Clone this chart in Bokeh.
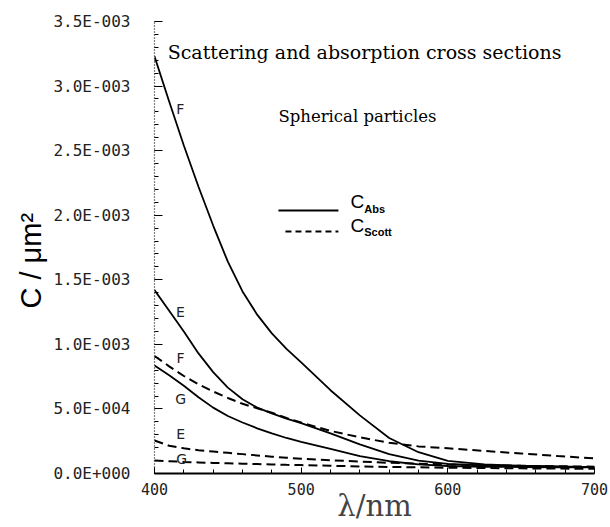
from bokeh.plotting import figure
from bokeh.models import (FixedTicker, CustomJSTickFormatter, Range1d, Label,
                          ColumnDataSource, Title)
from bokeh.embed import file_html
from bokeh.resources import INLINE

# ---------------- data ----------------
wavelength = [400, 410, 420, 430, 440, 450, 460, 470, 480, 490, 500,
              520, 540, 560, 580, 600, 625, 650, 675, 700]

# absorption cross sections (solid), in um^2
abs_F = [3.23e-3, 2.88e-3, 2.54e-3, 2.22e-3, 1.92e-3, 1.64e-3, 1.41e-3, 1.23e-3,
         1.085e-3, 0.965e-3, 0.86e-3, 0.645e-3, 0.45e-3, 0.275e-3, 0.165e-3,
         0.097e-3, 0.07e-3, 0.06e-3, 0.055e-3, 0.05e-3]
abs_E = [1.42e-3, 1.26e-3, 1.10e-3, 0.93e-3, 0.785e-3, 0.665e-3, 0.575e-3, 0.51e-3,
         0.465e-3, 0.425e-3, 0.39e-3, 0.31e-3, 0.225e-3, 0.15e-3, 0.10e-3,
         0.075e-3, 0.062e-3, 0.057e-3, 0.053e-3, 0.05e-3]
abs_G = [0.836e-3, 0.76e-3, 0.68e-3, 0.59e-3, 0.51e-3, 0.445e-3, 0.395e-3, 0.35e-3,
         0.31e-3, 0.275e-3, 0.245e-3, 0.19e-3, 0.135e-3, 0.095e-3, 0.07e-3,
         0.058e-3, 0.052e-3, 0.05e-3, 0.048e-3, 0.047e-3]

# scattering cross sections (dashed), in um^2
sca_F = [0.91e-3, 0.83e-3, 0.755e-3, 0.69e-3, 0.635e-3, 0.585e-3, 0.54e-3, 0.505e-3,
         0.47e-3, 0.43e-3, 0.395e-3, 0.33e-3, 0.28e-3, 0.238e-3, 0.21e-3,
         0.195e-3, 0.175e-3, 0.155e-3, 0.135e-3, 0.117e-3]
sca_E = [0.256e-3, 0.215e-3, 0.195e-3, 0.18e-3, 0.17e-3, 0.16e-3, 0.15e-3, 0.14e-3,
         0.13e-3, 0.122e-3, 0.115e-3, 0.103e-3, 0.092e-3, 0.083e-3, 0.076e-3,
         0.07e-3, 0.064e-3, 0.06e-3, 0.056e-3, 0.053e-3]
sca_G = [0.10e-3, 0.095e-3, 0.09e-3, 0.086e-3, 0.082e-3, 0.079e-3, 0.076e-3, 0.073e-3,
         0.07e-3, 0.067e-3, 0.065e-3, 0.06e-3, 0.055e-3, 0.051e-3, 0.048e-3,
         0.045e-3, 0.042e-3, 0.04e-3, 0.038e-3, 0.036e-3]

x_ticks = [400, 500, 600, 700]
y_ticks = [0.0, 0.5e-3, 1.0e-3, 1.5e-3, 2.0e-3, 2.5e-3, 3.0e-3, 3.5e-3]
y_tick_labels = ["0.0E+000", "5.0E-004", "1.0E-003", "1.5E-003",
                 "2.0E-003", "2.5E-003", "3.0E-003", "3.5E-003"]

# ---------------- figure ----------------
p = figure(width=610, height=527, output_backend="svg", toolbar_location=None,
           x_range=Range1d(400, 700), y_range=Range1d(0, 3.5e-3),
           min_border_left=154, min_border_right=16, min_border_top=21,
           min_border_bottom=54)
p.outline_line_color = None
p.xgrid.visible = False
p.ygrid.visible = False
p.background_fill_color = "white"
p.border_fill_color = "white"

src = ColumnDataSource(dict(x=wavelength, aF=abs_F, aE=abs_E, aG=abs_G,
                            sF=sca_F, sE=sca_E, sG=sca_G))
for col in ["aF", "aE", "aG"]:
    p.line("x", col, source=src, line_color="black", line_width=1.8)
for col in ["sF", "sE", "sG"]:
    p.line("x", col, source=src, line_color="black", line_width=2.0,
           line_dash="9 5")

# axes
xa = p.xaxis[0]
xa.ticker = FixedTicker(ticks=x_ticks, minor_ticks=list(range(400, 701, 20)))
xa.major_tick_in = 6
xa.major_tick_out = 0
xa.minor_tick_in = 4
xa.minor_tick_out = 0
xa.axis_line_width = 2
xa.major_label_text_font = "DejaVu Sans Mono"
xa.major_label_text_font_size = "15px"
xa.major_label_text_color = "#222222"
xa.major_label_standoff = 9
xa.axis_label = "λ/nm"
xa.axis_label_text_font = "DejaVu Serif"
xa.axis_label_text_font_style = "normal"
xa.axis_label_text_font_size = "29px"
xa.axis_label_standoff = -9

ya = p.yaxis[0]
ya.ticker = FixedTicker(ticks=y_ticks,
                        minor_ticks=[i * 1e-4 for i in range(0, 36)])
ya.formatter = CustomJSTickFormatter(args=dict(labels=y_tick_labels),
                                     code="return labels[Math.round(tick/0.0005)];")
ya.major_tick_in = 8
ya.major_tick_out = 0
ya.minor_tick_in = 4
ya.minor_tick_out = 0
ya.axis_line_width = 1.2
ya.axis_line_dash = "1 2"
ya.major_label_text_font = "DejaVu Sans Mono"
ya.major_label_text_font_size = "16px"
ya.major_label_text_color = "#222222"
ya.major_label_standoff = 24

# y-axis title, as a side title left of the tick labels
p.add_layout(Title(text="C / μm²", align="left", offset=165, standoff=8,
                   text_font="Liberation Sans", text_font_size="29px",
                   text_font_style="normal", text_color="black"), "left")

# titles
p.add_layout(Label(x=409, y=3.26e-3, text="Scattering and absorption cross sections",
                   text_font="DejaVu Serif", text_font_size="19px",
                   text_baseline="alphabetic", text_color="black"))
p.add_layout(Label(x=484.5, y=2.764e-3, text="Spherical particles",
                   text_font="DejaVu Serif", text_font_size="16.5px",
                   text_baseline="alphabetic", text_color="black"))

# legend (drawn manually)
p.segment(x0=[484.5], y0=[2.036e-3], x1=[525.4], y1=[2.036e-3],
          line_color="black", line_width=2)
p.segment(x0=[489.3], y0=[1.874e-3], x1=[525.4], y1=[1.874e-3],
          line_color="black", line_width=2, line_dash="6 4")
for cy, sub, sy in [(2.106e-3, "Abs", 2.05e-3), (1.924e-3, "Scott", 1.872e-3)]:
    p.add_layout(Label(x=533.6, y=cy, text="C", text_font="Liberation Sans",
                       text_font_size="19px", text_baseline="middle",
                       text_color="black"))
    p.add_layout(Label(x=543.0, y=sy, text=sub, text_font="Liberation Sans",
                       text_font_size="11px", text_font_style="bold",
                       text_baseline="middle", text_color="black"))

# curve letters
for lx, ly, t in [(417.5, 2.826e-3, "F"), (417.7, 1.247e-3, "E"),
                  (417.7, 0.898e-3, "F"), (417.9, 0.578e-3, "G"),
                  (417.9, 0.302e-3, "E"), (418.5, 0.114e-3, "G")]:
    p.add_layout(Label(x=lx, y=ly, text=t, text_font="DejaVu Sans",
                       text_font_size="14px", text_align="center",
                       text_baseline="middle", text_color="#222222"))

open("out.html", "w").write(file_html(p, INLINE))
